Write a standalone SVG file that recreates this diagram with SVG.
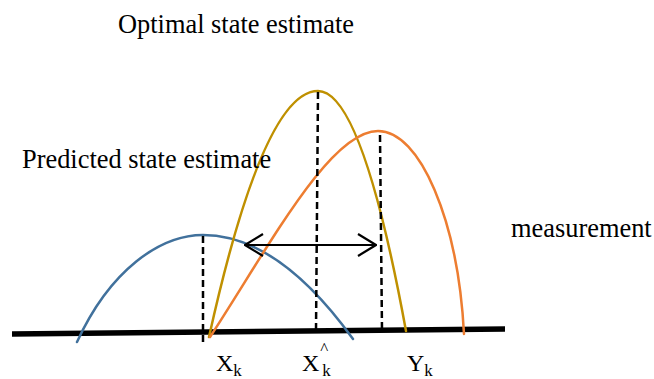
<svg xmlns="http://www.w3.org/2000/svg" width="654" height="379" viewBox="0 0 654 379">
<style>
text{font-family:"Liberation Serif","Times New Roman",serif;fill:#000}
.lbl{font-size:26.4px}
.ax{font-size:24px}
.sub{font-size:17px}
.curve{fill:none;stroke-width:2.5;stroke-linecap:round}
.dash{stroke:#000;stroke-width:2.5;stroke-dasharray:7 4;fill:none}
</style>
<defs>
<marker id="chev" viewBox="0 0 20 24" refX="19" refY="12" markerWidth="20" markerHeight="24" markerUnits="userSpaceOnUse" orient="auto-start-reverse">
<path d="M1,1 L19,12 L1,23" fill="none" stroke="#000" stroke-width="2.2"/>
</marker>
</defs>
<rect width="654" height="379" fill="#fff"/>
<g id="axis"><line x1="12" y1="334" x2="505" y2="329" stroke="#000" stroke-width="5.5"/></g>
<g id="predicted-curve"><path class="curve" stroke="#41719C" d="M77,342 C110,270 160,235 203,235 Q278,235 353,339"/></g>
<g id="optimal-curve"><path class="curve" stroke="#BF9000" d="M209,337 Q263.5,91 318,91 Q362,91 406,331"/></g>
<g id="measurement-curve"><path class="curve" stroke="#ED7D31" d="M210,337 C270,245 330,131 378,131 C420,131 458,220 464,334"/></g>
<g id="connectors">
<line class="dash" x1="203" y1="236" x2="203" y2="344"/>
<line class="dash" x1="318" y1="92" x2="316" y2="330"/>
<line class="dash" x1="380" y1="135" x2="382" y2="330"/>
<line x1="245" y1="245" x2="376" y2="245" stroke="#000" stroke-width="2.2" marker-start="url(#chev)" marker-end="url(#chev)"/>
</g>
<g id="label-optimal"><text class="lbl" x="118" y="33">Optimal state estimate</text></g>
<g id="label-predicted"><text class="lbl" x="22" y="168">Predicted state estimate</text></g>
<g id="label-measurement"><text class="lbl" x="511" y="237">measurement</text></g>
<g id="label-xk"><text class="ax" x="216" y="371">X<tspan class="sub" dy="5">k</tspan></text></g>
<g id="label-xhat"><text class="ax" x="302" y="371">X<tspan class="sub" dx="1" dy="-17">^</tspan><tspan class="sub" dx="-6" dy="22">k</tspan></text></g>
<g id="label-yk"><text class="ax" x="407" y="371">Y<tspan class="sub" dy="5">k</tspan></text></g>
</svg>
